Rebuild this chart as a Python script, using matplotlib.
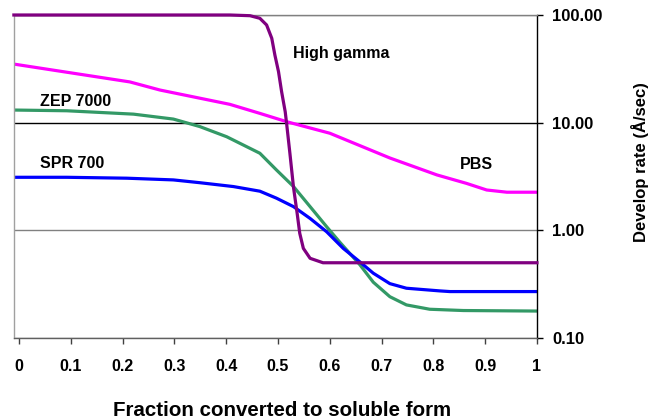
import matplotlib
matplotlib.use("Agg")
import matplotlib.pyplot as plt
from matplotlib.ticker import FixedLocator, FormatStrFormatter, NullLocator

plt.rcParams["font.family"] = ["Liberation Sans", "DejaVu Sans"]
plt.rcParams["font.weight"] = "bold"

# values
gamma_x = [-0.01, 0.407, 0.446, 0.465, 0.478, 0.488, 0.494, 0.501, 0.507, 0.514, 0.517,
           0.523, 0.530, 0.537, 0.542, 0.549, 0.562, 0.587, 1.0]
gamma_y = [100, 100, 98.5, 93.2, 80.8, 60.8, 42.5, 29.8, 19.4, 12.6, 9.5,
           5.2, 2.5, 1.44, 0.94, 0.68, 0.55, 0.5, 0.5]

pbs_x = [-0.01, 0.214, 0.272, 0.407, 0.465, 0.517, 0.600, 0.716, 0.807, 0.864, 0.903, 0.942, 1.0]
pbs_y = [35, 23.9, 20.1, 14.8, 12.2, 10.2, 7.98, 4.7, 3.27, 2.73, 2.37, 2.26, 2.26]

zep_x = [-0.01, 0.092, 0.221, 0.298, 0.349, 0.401, 0.465, 0.497, 0.530, 0.562, 0.594, 0.620,
         0.658, 0.684, 0.716, 0.748, 0.793, 0.858, 1.0]
zep_y = [13.1, 12.9, 12.0, 10.8, 9.2, 7.4, 5.2, 3.64, 2.55, 1.66, 1.08, 0.77,
         0.48, 0.33, 0.242, 0.203, 0.185, 0.180, 0.178]

spr_x = [-0.01, 0.092, 0.208, 0.298, 0.349, 0.414, 0.465, 0.497, 0.530, 0.562, 0.594, 0.626,
         0.658, 0.684, 0.716, 0.748, 0.812, 0.832, 1.0]
spr_y = [3.11, 3.11, 3.05, 2.94, 2.77, 2.55, 2.31, 1.99, 1.66, 1.29, 0.97, 0.68,
         0.51, 0.40, 0.32, 0.29, 0.274, 0.27, 0.27]

x_ticks = [0, 0.1, 0.2, 0.3, 0.4, 0.5, 0.6, 0.7, 0.8, 0.9, 1.0]
x_labels = ["0", "0.1", "0.2", "0.3", "0.4", "0.5", "0.6", "0.7", "0.8", "0.9", "1"]
y_ticks = [0.1, 1, 10, 100]

fig = plt.figure(figsize=(6.52, 4.2), dpi=100)
ax = fig.add_axes([0.0215, 0.1952, 0.802, 0.7691])

ax.plot(pbs_x, pbs_y, color="#FF00FF", lw=2.3, solid_joinstyle="round")
ax.plot(zep_x, zep_y, color="#339966", lw=2.3, solid_joinstyle="round")
ax.plot(spr_x, spr_y, color="#0000FF", lw=2.3, solid_joinstyle="round")
ax.plot(gamma_x, gamma_y, color="#800080", lw=2.3, clip_on=False, zorder=5,
        solid_joinstyle="round")

ax.set_yscale("log")
ax.set_ylim(0.1, 100)
ax.set_xlim(-0.0097, 1.0)

ax.yaxis.tick_right()
ax.yaxis.set_major_locator(FixedLocator(y_ticks))
ax.yaxis.set_minor_locator(NullLocator())
ax.yaxis.set_major_formatter(FormatStrFormatter("%.2f"))
ax.set_xticks(x_ticks)
ax.set_xticklabels(x_labels)

ax.tick_params(axis="x", direction="out", length=4, width=1, color="#404040",
               labelsize=11.5, pad=11)
ax.tick_params(axis="y", direction="out", length=4, width=1, color="black",
               labelsize=12, pad=7)

ax.yaxis.grid(True, color="#808080", lw=1)
for gl, t in zip(ax.yaxis.get_gridlines(), y_ticks):
    if t == 10:
        gl.set_color("black")

ax.spines["left"].set_color("#a0a0a0")
ax.spines["top"].set_color("#808080")
ax.spines["bottom"].set_color("#606060")
ax.spines["right"].set_color("black")
for s in ax.spines.values():
    s.set_linewidth(1)

fig.text(281.7 / 652, 1 - 410 / 420, "Fraction converted to soluble form",
         fontsize=14.8, fontweight="bold", ha="center", va="center")
fig.text(640 / 652, 1 - 162.5 / 420, "Develop rate (Å/sec)",
         fontsize=12, fontweight="bold", rotation=90, ha="center", va="center")

ax.text(0.529, 44, "High gamma", fontsize=11.5, fontweight="bold", va="center")
ax.text(0.04, 15.7, "ZEP 7000", fontsize=11.5, fontweight="bold", va="center")
ax.text(0.04, 4.2, "SPR 700", fontsize=11.5, fontweight="bold", va="center")
ax.text(0.851, 4.05, "PBS", fontsize=11.5, fontweight="bold", va="center")

fig.savefig("out.png", dpi=100)
